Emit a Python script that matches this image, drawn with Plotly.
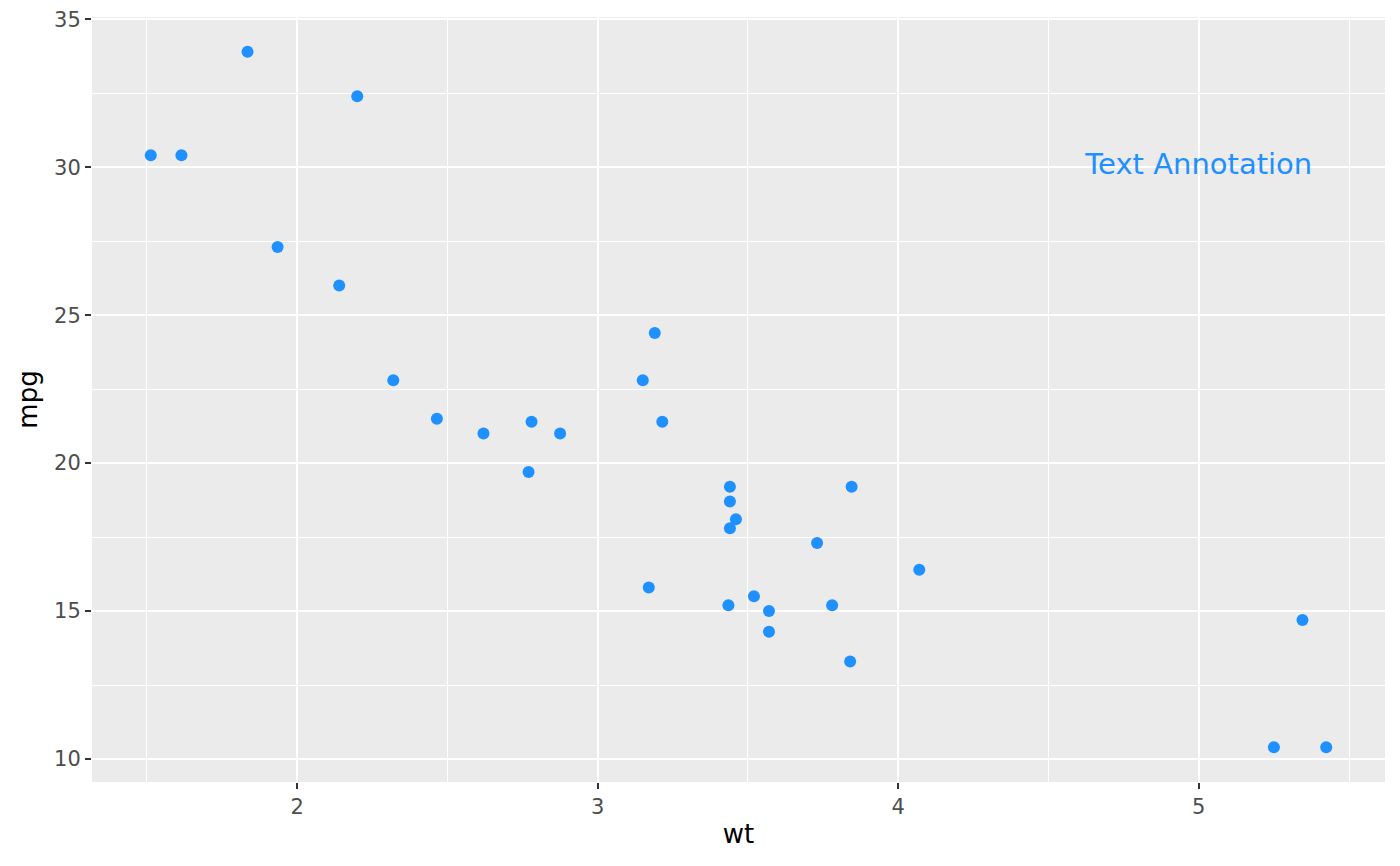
import plotly.graph_objects as go

wt = [2.620, 2.875, 2.320, 3.215, 3.440, 3.460, 3.570, 3.190, 3.150, 3.440, 3.440,
      4.070, 3.730, 3.780, 5.250, 5.424, 5.345, 2.200, 1.615, 1.835, 2.465, 3.520,
      3.435, 3.840, 3.845, 1.935, 2.140, 1.513, 3.170, 2.770, 3.570, 2.780]
mpg = [21.0, 21.0, 22.8, 21.4, 18.7, 18.1, 14.3, 24.4, 22.8, 19.2, 17.8,
       16.4, 17.3, 15.2, 10.4, 10.4, 14.7, 32.4, 30.4, 33.9, 21.5, 15.5,
       15.2, 13.3, 19.2, 27.3, 26.0, 30.4, 15.8, 19.7, 15.0, 21.4]
annot_x = [5]
annot_y = [30]
annot_text = ["Text Annotation"]

fig = go.Figure()
fig.add_trace(go.Scatter(x=wt, y=mpg, mode="markers",
                         marker=dict(color="#1E90FF", size=12, line=dict(width=0)),
                         hoverinfo="x+y"))
fig.add_trace(go.Scatter(x=annot_x, y=annot_y, mode="text", text=annot_text,
                         textposition="middle center",
                         textfont=dict(color="#1E90FF", size=29, family="DejaVu Sans")))

axis_common = dict(
    showgrid=True, gridcolor="white", gridwidth=2,
    zeroline=False, showline=False, automargin=False,
    ticks="outside", ticklen=6, tickwidth=2, tickcolor="#333333",
    tickfont=dict(color="#4d4d4d", size=21, family="DejaVu Sans"),
    title_font=dict(color="black", size=26, family="DejaVu Sans"),
)
fig.update_xaxes(**axis_common, range=[1.3175, 5.6196], tickvals=[2, 3, 4, 5],
                 minor=dict(tickvals=[1.5, 2.5, 3.5, 4.5, 5.5], showgrid=True,
                            gridcolor="white", gridwidth=1, ticks=""),
                 title_text="wt", title_standoff=6)
fig.update_yaxes(**axis_common, range=[9.225, 35.075], tickvals=[10, 15, 20, 25, 30, 35],
                 minor=dict(tickvals=[12.5, 17.5, 22.5, 27.5, 32.5], showgrid=True,
                            gridcolor="white", gridwidth=1, ticks=""),
                 title_text="mpg", title_standoff=8)
fig.update_layout(
    width=1400, height=866,
    margin=dict(l=92, r=15, t=17, b=84),
    plot_bgcolor="#EBEBEB", paper_bgcolor="white",
    showlegend=False,
    font=dict(family="DejaVu Sans"),
)
fig.write_html("out.html", config={"displayModeBar": False},
               post_script="document.body.style.margin='0';")
